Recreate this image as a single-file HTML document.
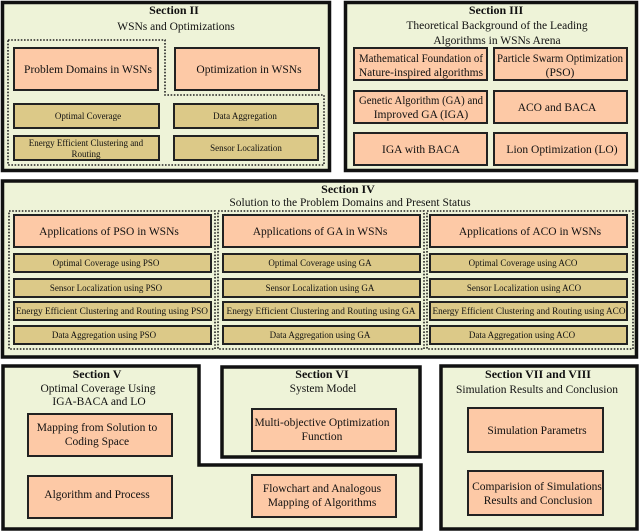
<!DOCTYPE html>
<html><head><meta charset="utf-8"><style>
html,body{margin:0;padding:0;background:#fff;}
svg{display:block;font-family:"Liberation Serif",serif;}
.s{fill:#eef3d8;stroke:#111;stroke-width:3.5;}
.p{fill:#fdc9a6;stroke:#222;stroke-width:2;}
.t{fill:#dcc988;stroke:#222;stroke-width:2;}
.d{fill:none;stroke:#222;stroke-width:1.6;stroke-dasharray:1.6,1.6;}
text{fill:#111;text-anchor:middle;}
.h{font-weight:bold;font-size:12px;}
.sub{font-size:11.5px;}
.pt{font-size:11.5px;}
.tt{font-size:9px;}
</style></head><body>
<svg width="640" height="532" viewBox="0 0 640 532" xmlns="http://www.w3.org/2000/svg">
<!-- Section II -->
<rect class="s" x="2.5" y="2.5" width="327" height="168"/>
<text class="h" x="174" y="14">Section II</text>
<text class="sub" x="176" y="30">WSNs and Optimizations</text>
<polyline class="d" points="8,40 165,40 165,95 324,95 324,165 8,165 8,40"/>
<rect class="p" x="14" y="48" width="144" height="42"/>
<text class="pt" x="88" y="73">Problem Domains in WSNs</text>
<rect class="p" x="175" y="48" width="144" height="42"/>
<text class="pt" x="249" y="73">Optimization in WSNs</text>
<rect class="t" x="14" y="104" width="145" height="24"/>
<text class="tt" x="88" y="119">Optimal Coverage</text>
<rect class="t" x="174" y="104" width="144" height="24"/>
<text class="tt" x="245" y="119">Data Aggregation</text>
<rect class="t" x="14" y="136" width="145" height="24"/>
<text class="tt" x="86" y="146">Energy Efficient Clustering and</text>
<text class="tt" x="86" y="157">Routing</text>
<rect class="t" x="174" y="136" width="144" height="24"/>
<text class="tt" x="246" y="151">Sensor Localization</text>

<!-- Section III -->
<rect class="s" x="345.5" y="2.5" width="291" height="168"/>
<text class="h" x="496" y="14">Section III</text>
<text class="sub" x="497" y="29">Theoretical Background of the Leading</text>
<text class="sub" x="497" y="44">Algorithms in WSNs Arena</text>
<rect class="p" x="354" y="48" width="133" height="32"/>
<text class="pt" x="421" y="62" textLength="124" lengthAdjust="spacingAndGlyphs">Mathematical Foundation of</text>
<text class="pt" x="421" y="76">Nature-inspired algorithms</text>
<rect class="p" x="494" y="48" width="133" height="32"/>
<text class="pt" x="560" y="62" textLength="126" lengthAdjust="spacingAndGlyphs">Particle Swarm Optimization</text>
<text class="pt" x="560" y="76">(PSO)</text>
<rect class="p" x="354" y="91" width="133" height="32"/>
<text class="pt" x="421" y="104" textLength="124" lengthAdjust="spacingAndGlyphs">Genetic Algorithm (GA) and</text>
<text class="pt" x="421" y="118">Improved GA (IGA)</text>
<rect class="p" x="494" y="91" width="133" height="32"/>
<text class="pt" x="557" y="111">ACO and BACA</text>
<rect class="p" x="354" y="133" width="133" height="32"/>
<text class="pt" x="421" y="153">IGA with BACA</text>
<rect class="p" x="494" y="133" width="133" height="32"/>
<text class="pt" x="562" y="153">Lion Optimization (LO)</text>

<!-- Section IV -->
<rect class="s" x="2.5" y="181" width="634" height="176"/>
<text class="h" x="348" y="193">Section IV</text>
<text class="sub" x="350" y="206">Solution to the Problem Domains and Present Status</text>
<rect class="d" x="9" y="211" width="206" height="138"/>
<rect class="d" x="218" y="211" width="206" height="138"/>
<rect class="d" x="427" y="211" width="206" height="138"/>

<rect class="p" x="14" y="215" width="197" height="32"/>
<text class="pt" x="109" y="235">Applications of PSO in WSNs</text>
<rect class="t" x="14" y="254" width="197" height="18"/>
<text class="tt" x="106" y="266">Optimal Coverage using PSO</text>
<rect class="t" x="14" y="279" width="197" height="18"/>
<text class="tt" x="106" y="291">Sensor Localization using PSO</text>
<rect class="t" x="14" y="302" width="197" height="18"/>
<text class="tt" x="112" y="314" textLength="192" lengthAdjust="spacingAndGlyphs">Energy Efficient Clustering and Routing using PSO</text>
<rect class="t" x="14" y="326" width="197" height="18"/>
<text class="tt" x="104" y="338">Data Aggregation using PSO</text>

<rect class="p" x="223" y="215" width="197" height="32"/>
<text class="pt" x="320" y="235">Applications of GA in WSNs</text>
<rect class="t" x="223" y="254" width="197" height="18"/>
<text class="tt" x="320" y="266">Optimal Coverage using GA</text>
<rect class="t" x="223" y="279" width="197" height="18"/>
<text class="tt" x="320" y="291">Sensor Localization using GA</text>
<rect class="t" x="223" y="302" width="197" height="18"/>
<text class="tt" x="321" y="314" textLength="189" lengthAdjust="spacingAndGlyphs">Energy Efficient Clustering and Routing using GA</text>
<rect class="t" x="223" y="326" width="197" height="18"/>
<text class="tt" x="320" y="338">Data Aggregation using GA</text>

<rect class="p" x="430" y="215" width="197" height="32"/>
<text class="pt" x="530" y="235">Applications of ACO in WSNs</text>
<rect class="t" x="430" y="254" width="197" height="18"/>
<text class="tt" x="523" y="266">Optimal Coverage using ACO</text>
<rect class="t" x="430" y="279" width="197" height="18"/>
<text class="tt" x="524" y="291">Sensor Localization using ACO</text>
<rect class="t" x="430" y="302" width="197" height="18"/>
<text class="tt" x="529" y="314" textLength="193" lengthAdjust="spacingAndGlyphs">Energy Efficient Clustering and Routing using ACO</text>
<rect class="t" x="430" y="326" width="197" height="18"/>
<text class="tt" x="522" y="338">Data Aggregation using ACO</text>

<!-- Section V -->
<polygon class="s" points="3,366 199,366 199,465 421,465 421,529 3,529"/>
<text class="h" x="97" y="378">Section V</text>
<text class="sub" x="98" y="392">Optimal Coverage Using</text>
<text class="sub" x="99" y="405">IGA-BACA and LO</text>
<rect class="p" x="28" y="414" width="144" height="42"/>
<text class="pt" x="97" y="431">Mapping from Solution to</text>
<text class="pt" x="97" y="445">Coding Space</text>
<rect class="p" x="28" y="476" width="144" height="42"/>
<text class="pt" x="97" y="498">Algorithm and Process</text>
<rect class="p" x="252" y="475" width="144" height="42"/>
<text class="pt" x="322" y="492">Flowchart and Analogous</text>
<text class="pt" x="322" y="506">Mapping of Algorithms</text>

<!-- Section VI -->
<rect class="s" x="222" y="367" width="198" height="90"/>
<text class="h" x="322" y="378">Section VI</text>
<text class="sub" x="323" y="392">System Model</text>
<rect class="p" x="252" y="409" width="144" height="42"/>
<text class="pt" x="322" y="426">Multi-objective Optimization</text>
<text class="pt" x="322" y="440">Function</text>

<!-- Section VII -->
<rect class="s" x="441" y="366" width="196" height="163"/>
<text class="h" x="538" y="378">Section VII and VIII</text>
<text class="sub" x="537" y="393">Simulation Results and Conclusion</text>
<rect class="p" x="468" y="408" width="135" height="44"/>
<text class="pt" x="537" y="434">Simulation Parametrs</text>
<rect class="p" x="468" y="471" width="135" height="44"/>
<text class="pt" x="537" y="490">Comparision of Simulations</text>
<text class="pt" x="538" y="504">Results and Conclusion</text>
</svg>
</body></html>
